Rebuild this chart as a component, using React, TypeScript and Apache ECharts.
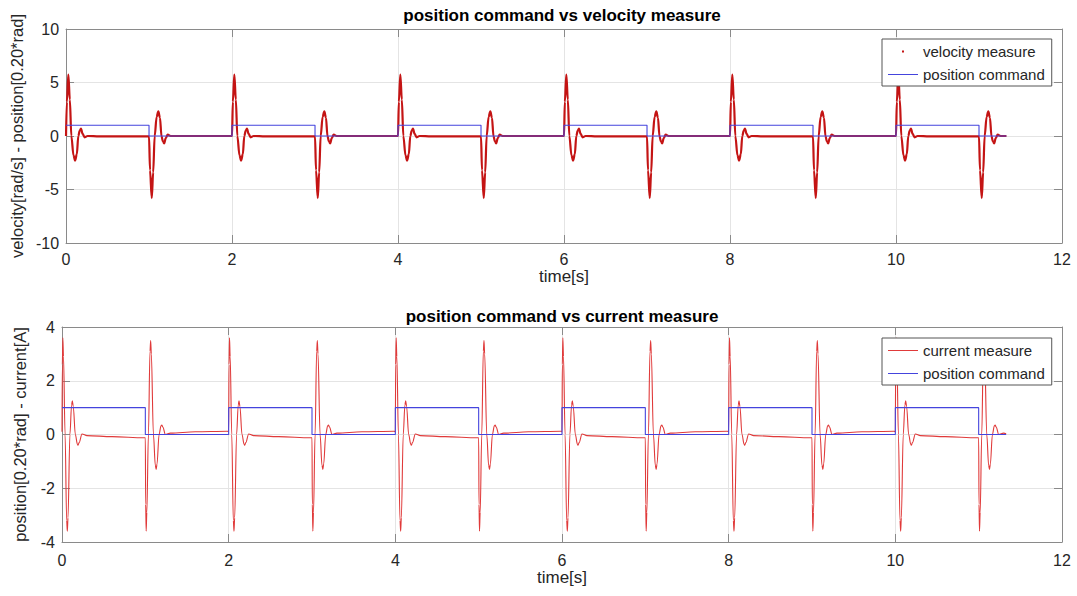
import React, { useEffect, useRef } from "react";
import * as echarts from "echarts";

// ---- data ----
// position command: level after each step time (step "end")
const commandTimes = [0, 1, 2, 3, 4, 5, 6, 7, 8, 9, 10, 11, 11.33];
const commandLevels = [1, 0, 1, 0, 1, 0, 1, 0, 1, 0, 1, 0, 0];
const endTime = 11.33;

// velocity transient after a rising step (offset from the step, s) and value (rad/s)
const velRiseOffsets = [0, 0.01, 0.028, 0.046, 0.064, 0.09, 0.11, 0.13, 0.148, 0.165, 0.18, 0.2, 0.225, 0.26, 0.4, 0.99];
const velRiseValues = [0, 3.2, 5.75, 3.4, 0, -1.8, -2.3, -1.7, 0, 0.5, 0.7, 0.2, -0.12, 0, -0.04, -0.04];
// velocity transient after a falling step
const velFallOffsets = [0, 0.012, 0.033, 0.05, 0.068, 0.092, 0.112, 0.132, 0.15, 0.167, 0.182, 0.202, 0.225, 0.26, 0.4, 0.99];
const velFallValues = [-0.04, -3.2, -5.8, -3.4, 0, 1.8, 2.3, 1.7, 0, -0.5, -0.7, -0.2, 0.12, 0, 0, 0];
const velEndValue = 0;

// current transient after a rising step (A)
const curRiseOffsets = [0, 0.004, 0.01, 0.018, 0.037, 0.056, 0.064, 0.072, 0.095, 0.115, 0.124, 0.135, 0.16, 0.185, 0.193, 0.205, 0.24, 0.3, 0.6, 0.985];
const curRiseValues = [0.1, 2.6, 3.6, 2.9, 0, -3.2, -3.6, -3.1, 0, 1.1, 1.25, 1.05, 0, -0.36, -0.4, -0.3, 0.02, -0.04, -0.08, -0.12];
// current transient after a falling step
const curFallOffsets = [0, 0.004, 0.01, 0.018, 0.037, 0.056, 0.064, 0.072, 0.097, 0.12, 0.13, 0.14, 0.165, 0.188, 0.197, 0.21, 0.24, 0.3, 0.6, 0.985];
const curFallValues = [-0.12, -2.6, -3.6, -2.9, 0, 3.1, 3.5, 3.0, 0, -1.15, -1.3, -1.1, 0, 0.32, 0.35, 0.28, 0.0, 0.05, 0.1, 0.12];
const curEndValue = 0.03;

// axis ticks
const xTicks = { min: 0, max: 12, interval: 2 };
const yVelTicks = { min: -10, max: 10, interval: 5 };
const yCurTicks = { min: -4, max: 4, interval: 2 };

const FONT = "'Liberation Sans', Arial, Helvetica, sans-serif";
const AX = "#8a8a8a";
const GRID = "#e4e4e4";
const TXT = "#262626";

function buildTransient(
  rOff: number[], rVal: number[], fOff: number[], fVal: number[], endVal: number
): [number, number][] {
  const pts: [number, number][] = [];
  for (let i = 0; i < commandTimes.length - 1; i++) {
    const te = commandTimes[i];
    const next = commandTimes[i + 1];
    const rising = commandLevels[i] === 1;
    const offs = rising ? rOff : fOff;
    const vals = rising ? rVal : fVal;
    for (let k = 0; k < offs.length; k++) {
      const t = te + offs[k];
      if (t < next) pts.push([t, vals[k]]);
    }
  }
  pts.push([endTime, endVal]);
  return pts;
}

const commandData: [number, number][] = commandTimes.map((t, i) => [t, commandLevels[i]]);

export default function App() {
  const ref = useRef<HTMLDivElement>(null);
  useEffect(() => {
    if (!ref.current) return;
    const chart = echarts.init(ref.current, undefined, { renderer: "svg" });
    const velData = buildTransient(velRiseOffsets, velRiseValues, velFallOffsets, velFallValues, velEndValue);
    const curData = buildTransient(curRiseOffsets, curRiseValues, curFallOffsets, curFallValues, curEndValue);

    const mainX = (gridIndex: number, gap: number, margin: number) => ({
      gridIndex, type: "value", ...xTicks, position: "bottom",
      name: "time[s]", nameLocation: "middle", nameGap: gap,
      nameTextStyle: { fontSize: 17, color: TXT, fontFamily: FONT },
      axisLine: { show: true, onZero: false, lineStyle: { color: AX, width: 1 } },
      axisTick: { show: true, inside: true, length: 8, lineStyle: { color: AX } },
      axisLabel: { fontSize: 16, color: TXT, margin, fontFamily: FONT },
      splitLine: { show: true, lineStyle: { color: GRID, width: 1 } },
    });
    const topX = (gridIndex: number) => ({
      gridIndex, type: "value", ...xTicks, position: "top",
      axisLine: { show: true, onZero: false, lineStyle: { color: AX, width: 1 } },
      axisTick: { show: true, inside: true, length: 8, lineStyle: { color: AX } },
      axisLabel: { show: false }, splitLine: { show: false },
    });
    const mainY = (gridIndex: number, ticks: any, name: string) => ({
      gridIndex, type: "value", ...ticks, position: "left",
      name, nameLocation: "middle", nameGap: 34, nameRotate: 90,
      nameTextStyle: { fontSize: 16.5, color: TXT, fontFamily: FONT },
      axisLine: { show: true, onZero: false, lineStyle: { color: AX, width: 1 } },
      axisTick: { show: true, inside: true, length: 8, lineStyle: { color: AX } },
      axisLabel: { fontSize: 16, color: TXT, margin: 7, fontFamily: FONT },
      splitLine: { show: true, lineStyle: { color: GRID, width: 1 } },
    });
    const rightY = (gridIndex: number, ticks: any) => ({
      gridIndex, type: "value", ...ticks, position: "right",
      axisLine: { show: true, onZero: false, lineStyle: { color: AX, width: 1 } },
      axisTick: { show: true, inside: true, length: 8, lineStyle: { color: AX } },
      axisLabel: { show: false }, splitLine: { show: false },
    });

    const LINE_ICON = "path://M0,0h30v1h-30z";
    const DOT_ICON = "path://M0,0h2v2h-2z";
    const legendBase = {
      orient: "vertical", itemWidth: 30, itemHeight: 2, itemGap: 8,
      padding: [5, 7, 4, 6], borderColor: "#555", borderWidth: 1, backgroundColor: "#fff",
      selectedMode: false, symbolKeepAspect: true,
      itemStyle: { borderWidth: 0 },
      textStyle: { fontSize: 15, color: TXT, fontFamily: FONT },
    };

    chart.setOption({
      animation: false,
      backgroundColor: "#fff",
      grid: [
        { left: 62, top: 29, width: 1000, height: 214 },
        { left: 62, top: 327, width: 1000, height: 215 },
      ],
      xAxis: [mainX(0, 21, 8), topX(0), mainX(1, 25, 10), topX(1)],
      yAxis: [
        mainY(0, yVelTicks, "velocity[rad/s] - position[0.20*rad]"), rightY(0, yVelTicks),
        mainY(1, yCurTicks, "position[0.20*rad] - current[A]"), rightY(1, yCurTicks),
      ],
      legend: [
        { ...legendBase, left: 882, top: 39,
          data: [{ name: "velocity measure", icon: DOT_ICON }, { name: "position command", icon: LINE_ICON }] },
        { ...legendBase, left: 882, top: 338,
          data: [{ name: "current measure", icon: LINE_ICON }, { name: "position command", icon: LINE_ICON }] },
      ],
      graphic: [
        { type: "text", x: 562, y: 15, style: { text: "position command vs velocity measure", font: `bold 17px ${FONT}`, fill: "#000", textAlign: "center", textVerticalAlign: "middle" } },
        { type: "text", x: 562, y: 316, style: { text: "position command vs current measure", font: `bold 17px ${FONT}`, fill: "#000", textAlign: "center", textVerticalAlign: "middle" } },
      ],
      series: [
        { name: "velocity measure", type: "line", xAxisIndex: 0, yAxisIndex: 0, data: velData,
          showSymbol: false, symbol: "none", smooth: 0.35, smoothMonotone: "x",
          color: "#c41414", lineStyle: { color: "#c41414", width: 2.2 } },
        { name: "position command", type: "line", xAxisIndex: 0, yAxisIndex: 0, data: commandData, step: "end",
          showSymbol: false, symbol: "none", color: "#4444dd", lineStyle: { color: "#4444dd", width: 1.1 } },
        { name: "current measure", type: "line", xAxisIndex: 2, yAxisIndex: 2, data: curData,
          showSymbol: false, symbol: "none", smooth: 0.35, smoothMonotone: "x",
          color: "#e03a3a", lineStyle: { color: "#e03a3a", width: 1.1 } },
        { name: "position command", type: "line", xAxisIndex: 2, yAxisIndex: 2, data: commandData, step: "end",
          showSymbol: false, symbol: "none", color: "#4444dd", lineStyle: { color: "#4444dd", width: 1.1 } },
      ],
    });
    return () => chart.dispose();
  }, []);
  return (
    <div ref={ref} style={{ position: "absolute", left: 0, top: 0, width: 1077, height: 596, background: "#fff" }} />
  );
}
